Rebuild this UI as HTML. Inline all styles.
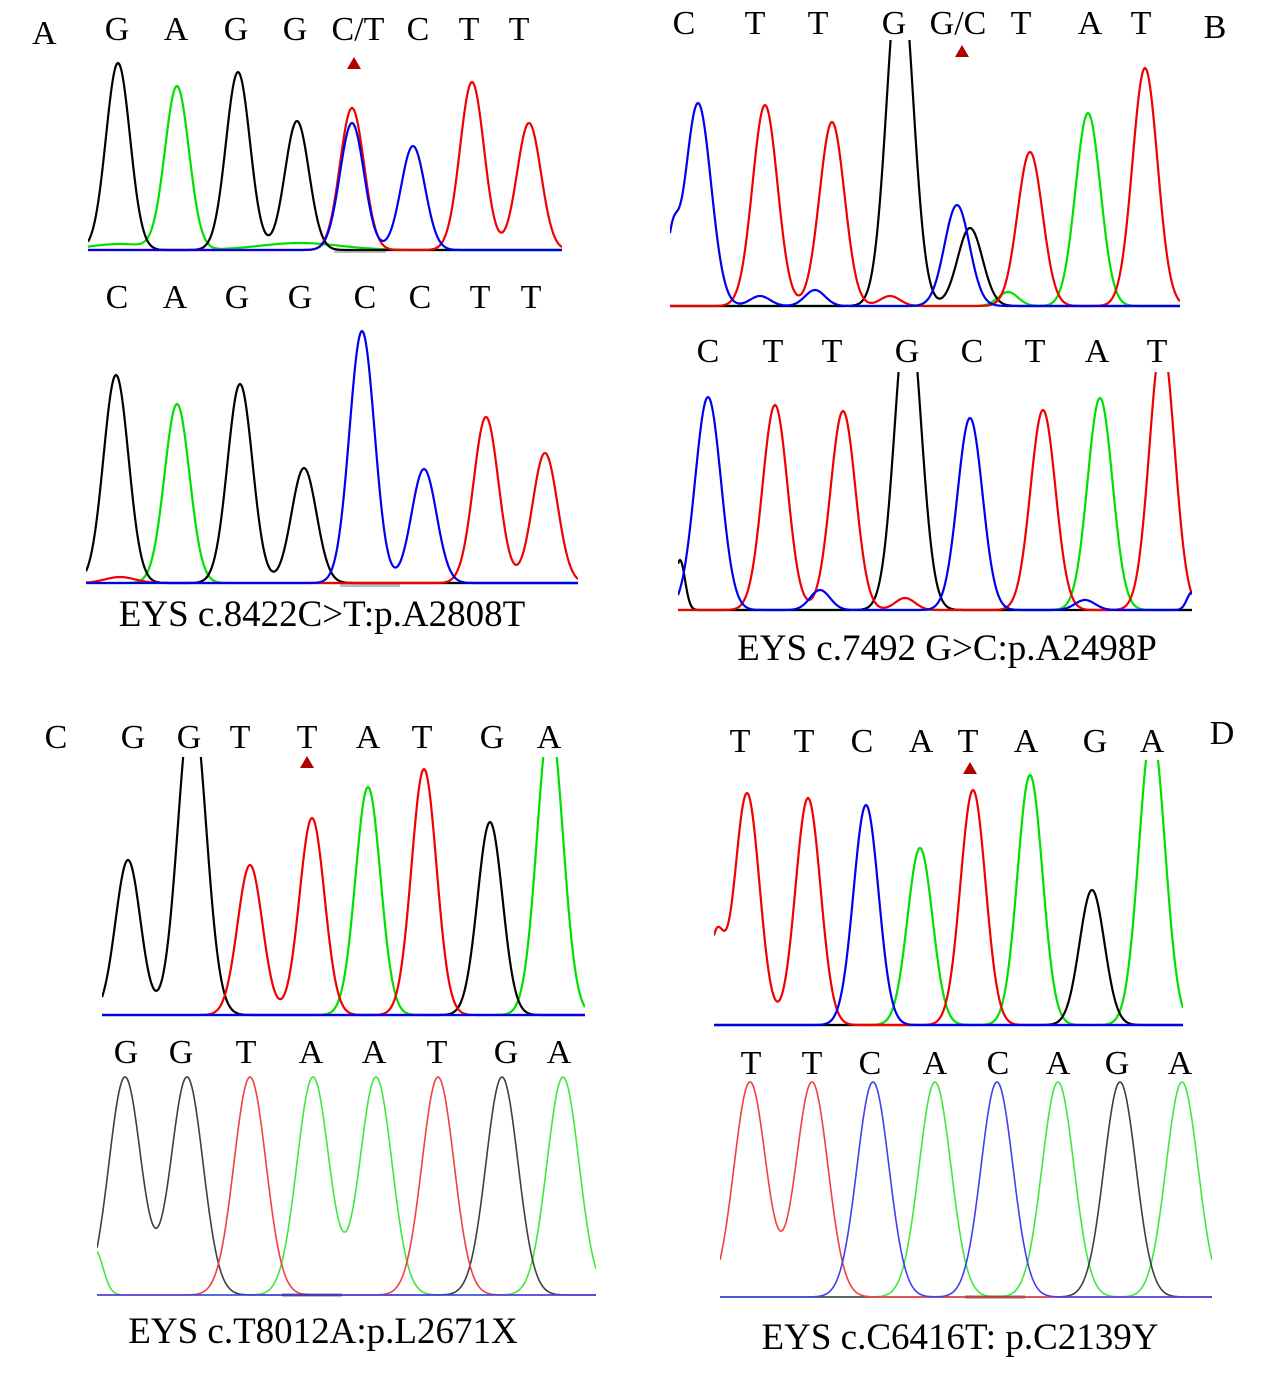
<!DOCTYPE html>
<html><head><meta charset="utf-8">
<style>
html,body{margin:0;padding:0;background:#fff;}
svg{display:block;}
text{font-family:"Liberation Serif",serif;font-size:34px;fill:#000;}
.cap{font-size:37px;}
</style></head>
<body>
<svg id="s" width="1274" height="1400" xmlns="http://www.w3.org/2000/svg">
<text x="32" y="44">A</text>
<g text-anchor="middle">
<text x="117" y="40">G</text><text x="176" y="40">A</text><text x="236" y="40">G</text><text x="295" y="40">G</text><text x="358" y="40">C/T</text><text x="418" y="40">C</text><text x="469" y="40">T</text><text x="519" y="40">T</text>
<text x="117" y="308">C</text><text x="175" y="308">A</text><text x="237" y="308">G</text><text x="300" y="308">G</text><text x="365" y="308">C</text><text x="420" y="308">C</text><text x="480" y="308">T</text><text x="531" y="308">T</text>
<text class="cap" x="322" y="626">EYS c.8422C&gt;T:p.A2808T</text>
<text x="684" y="34">C</text><text x="755" y="34">T</text><text x="818" y="34">T</text><text x="894" y="34">G</text><text x="958" y="34">G/C</text><text x="1021" y="34">T</text><text x="1090" y="34">A</text><text x="1141" y="34">T</text><text x="1215" y="38">B</text>
<text x="708" y="362">C</text><text x="773" y="362">T</text><text x="832" y="362">T</text><text x="907" y="362">G</text><text x="972" y="362">C</text><text x="1035" y="362">T</text><text x="1097" y="362">A</text><text x="1157" y="362">T</text>
<text class="cap" x="947" y="660">EYS c.7492 G&gt;C:p.A2498P</text>
<text x="56" y="748">C</text><text x="133" y="748">G</text><text x="189" y="748">G</text><text x="240" y="748">T</text><text x="307" y="748">T</text><text x="368" y="748">A</text><text x="422" y="748">T</text><text x="492" y="748">G</text><text x="549" y="748">A</text>
<text x="126" y="1063">G</text><text x="181" y="1063">G</text><text x="246" y="1063">T</text><text x="311" y="1063">A</text><text x="374" y="1063">A</text><text x="437" y="1063">T</text><text x="506" y="1063">G</text><text x="559" y="1063">A</text>
<text class="cap" x="323" y="1343">EYS c.T8012A:p.L2671X</text>
<text x="740" y="752">T</text><text x="804" y="752">T</text><text x="862" y="752">C</text><text x="921" y="752">A</text><text x="968" y="752">T</text><text x="1026" y="752">A</text><text x="1095" y="752">G</text><text x="1152" y="752">A</text><text x="1222" y="744">D</text>
<text x="751" y="1074">T</text><text x="812" y="1074">T</text><text x="870" y="1074">C</text><text x="935" y="1074">A</text><text x="998" y="1074">C</text><text x="1058" y="1074">A</text><text x="1117" y="1074">G</text><text x="1180" y="1074">A</text>
<text class="cap" x="960" y="1349">EYS c.C6416T: p.C2139Y</text>
</g>
<g fill="#b00000">
<polygon points="354,57 347,69 361,69"/>
<polygon points="962,45 955,57 969,57"/>
<polygon points="307,756 300,768 314,768"/>
<polygon points="970,762 963,774 977,774"/>
</g>
<g fill="#bbb">
<rect x="334" y="249" width="52" height="4"/>
<rect x="340" y="582" width="60" height="5"/>
<rect x="282" y="1293" width="60" height="4"/>
<rect x="965" y="1295" width="60" height="4"/>
</g>
<g id="curves"></g>
</svg>
<script>
var C={k:"#000",g:"#00e000",r:"#f00000",b:"#0000f0"};
var out="",cid=0;
function panel(x0,x1,top,base,peaks,s,sw,op){
  cid++;
  out+='<clipPath id="c'+cid+'"><rect x="'+x0+'" y="'+top+'" width="'+(x1-x0)+'" height="'+(base-top+6)+'"/></clipPath><g clip-path="url(#c'+cid+')" fill="none" stroke-width="'+sw+'" opacity="'+op+'">';
  ["g","k","r","b"].forEach(function(col){
    var d="";
    for(var x=x0;x<=x1;x+=1){
      var y=base;
      peaks.forEach(function(p){if(p[0]==col){var h=base-p[2];var ss=p[3]||s;y-=h*Math.exp(-Math.pow(x-p[1],2)/(2*ss*ss));}});
      d+=(x==x0?"M":"L")+x+","+y.toFixed(1);
    }
    out+='<path stroke="'+C[col]+'" d="'+d+'"/>';
  });
  out+='</g>';
}
panel(88,562,20,250,[["k",118,63],["g",177,87],["k",238,72],["k",297,121],["r",352,108],["b",352,123],["b",413,146],["r",472,82],["r",529,123],["g",120,244,30],["g",300,243,40]],12,2.2,1);
panel(86,578,300,583,[["k",116,375],["g",177,404],["k",240,384],["k",304,468],["b",362,331],["b",424,469],["r",486,417],["r",545,453],["r",120,577,15]],12.5,2.2,1);
panel(670,1180,40,306,[["b",698,103,13],["b",672,250,6],["r",765,105],["r",832,122],["k",900,-40,13],["b",957,205],["k",970,228],["r",1030,152],["g",1088,113],["r",1145,68],["b",760,296,10],["b",815,290,10],["r",890,296,10],["g",1008,292,10]],12.5,2.2,1);
panel(678,1192,372,610,[["b",708,397,13],["k",680,560,5],["r",775,405],["r",843,411],["k",908,300,13],["b",970,418],["r",1043,410],["g",1100,398],["r",1162,340],["b",820,590,10],["r",905,598,10],["b",1085,600,10],["b",1192,592,5]],12.5,2.2,1);
panel(102,585,757,1015,[["k",128,860],["k",192,700,14],["r",250,865],["r",312,818],["g",368,787],["r",424,769],["k",490,822],["g",550,720,13]],12.5,2.2,1);
panel(97,596,1070,1295,[["k",125,1077,16],["k",187,1077,16],["r",250,1077,16],["g",313,1077,16],["g",376,1077,16],["r",438,1077,16],["k",502,1077,16],["g",563,1077,16],["g",95,1250,8]],16,1.6,0.75);
panel(714,1183,760,1025,[["r",747,793],["r",716,940,8],["r",808,798],["b",866,805],["g",920,848],["r",973,790],["g",1030,775],["k",1092,890],["g",1152,730,13]],12.5,2.2,1);
panel(720,1212,1075,1297,[["r",750,1082,16],["r",812,1082,16],["b",873,1082,16],["g",935,1082,16],["b",997,1082,16],["g",1058,1082,16],["k",1120,1082,16],["g",1182,1082,16]],16,1.6,0.75);
document.getElementById("curves").innerHTML=out;
</script>
</body></html>
